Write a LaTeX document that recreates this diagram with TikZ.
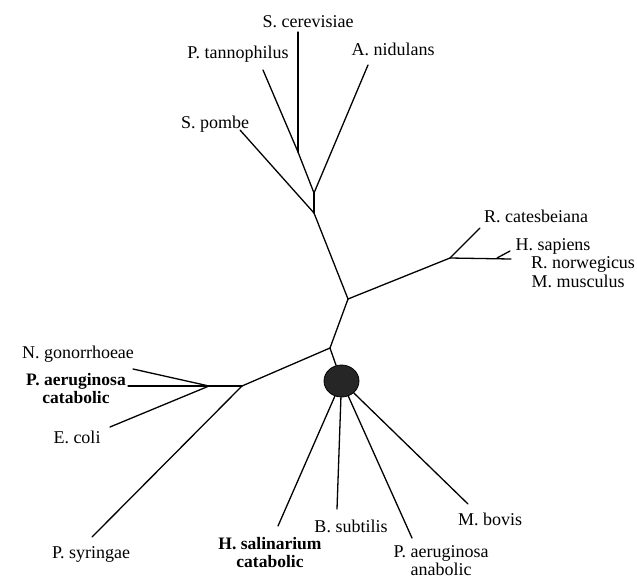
\documentclass[tikz,border=0pt]{standalone}
\usepackage{fontspec}
\setmainfont{Liberation Serif}
\usetikzlibrary{positioning, shapes.geometric}

\begin{document}
\begin{tikzpicture}[x=1pt, y=-1pt,
    font=\fontsize{18}{19}\selectfont,
    taxon/.style={inner sep=0pt, anchor=base},
    taxonbf/.style={inner sep=0pt, anchor=north, align=center, font=\fontsize{17.5}{18.5}\selectfont\bfseries},
    branch/.style={line width=1.3pt, line cap=round},
    hubdot/.style={ellipse, draw, line width=0.8pt, fill=black!85, minimum width=35pt, minimum height=32pt, inner sep=0pt}
]
\useasboundingbox (0,0) rectangle (637,582);

\node[taxon] (cer)  at (308,27)  {S. cerevisiae};
\node[taxon] (tan)  at (238,58)  {P. tannophilus};
\node[taxon] (nid)  at (393,55)  {A. nidulans};
\node[taxon] (pom)  at (215,128) {S. pombe};
\node[taxon] (cat)  at (536,222) {R. catesbeiana};
\node[taxon] (sap)  at (553,250) {H. sapiens};
\node[taxon] (nor)  at (583,268) {R. norwegicus};
\node[taxon] (mus)  at (578,287) {M. musculus};
\node[taxon] (gon)  at (78,358)  {N. gonorrhoeae};
\node[taxonbf] (pac) at (76,373) {P. aeruginosa\\catabolic};
\node[taxon] (eco)  at (77,443)  {E. coli};
\node[taxon] (syr)  at (91,558)  {P. syringae};
\node[taxonbf] (hsc) at (270,537) {H. salinarium\\catabolic};
\node[taxon] (sub)  at (351,532) {B. subtilis};
\node[taxon, align=center, anchor=north, font=\fontsize{18}{18}\selectfont] (paa) at (441,545) {P. aeruginosa\\anabolic};
\node[taxon] (bov)  at (490,525) {M. bovis};

\coordinate (tcer) at (298,32);
\coordinate (ttan) at (263,70);
\coordinate (tnid) at (368,65);
\coordinate (tpom) at (240,130);
\coordinate (tcat) at (480,228);
\coordinate (tsap) at (510,251);
\coordinate (tnor) at (511,259);
\coordinate (tgon) at (133,369);
\coordinate (tpac) at (128,386);
\coordinate (teco) at (110,427);
\coordinate (tsyr) at (92,537);
\coordinate (thsc) at (278,526);
\coordinate (tsub) at (337,509);
\coordinate (tpaa) at (412,538);
\coordinate (tbov) at (468,504);

\coordinate (j1) at (298,152);
\coordinate (j2) at (314,193);
\coordinate (j3) at (314,213);
\coordinate (j4) at (348,299);
\coordinate (j5) at (450,258);
\coordinate (j6) at (497,258);
\coordinate (j7) at (330,348);
\coordinate (j8) at (242,386);
\coordinate (j9) at (209,386);
\node[hubdot] (hub) at (341.5,381) {};

\draw[branch] (j1) -- (tcer);
\draw[branch] (j1) -- (ttan);
\draw[branch] (j1) -- (j2);
\draw[branch] (j2) -- (tnid);
\draw[branch] (j2) -- (j3);
\draw[branch] (j3) -- (tpom);
\draw[branch] (j3) -- (j4);
\draw[branch] (j4) -- (j5);
\draw[branch] (j5) -- (tcat);
\draw[branch] (j5) -- (tnor);
\draw[branch] (j6) -- (tsap);
\draw[branch] (j4) -- (j7);
\draw[branch] (j7) -- (j8);
\draw[branch] (j7) -- (hub);
\draw[branch] (j8) -- (j9);
\draw[branch] (j8) -- (tsyr);
\draw[branch] (j9) -- (tgon);
\draw[branch] (j9) -- (tpac);
\draw[branch] (j9) -- (teco);
\draw[branch] (hub) -- (thsc);
\draw[branch] (hub) -- (tsub);
\draw[branch] (hub) -- (tpaa);
\draw[branch] (hub) -- (tbov);
\end{tikzpicture}
\end{document}
